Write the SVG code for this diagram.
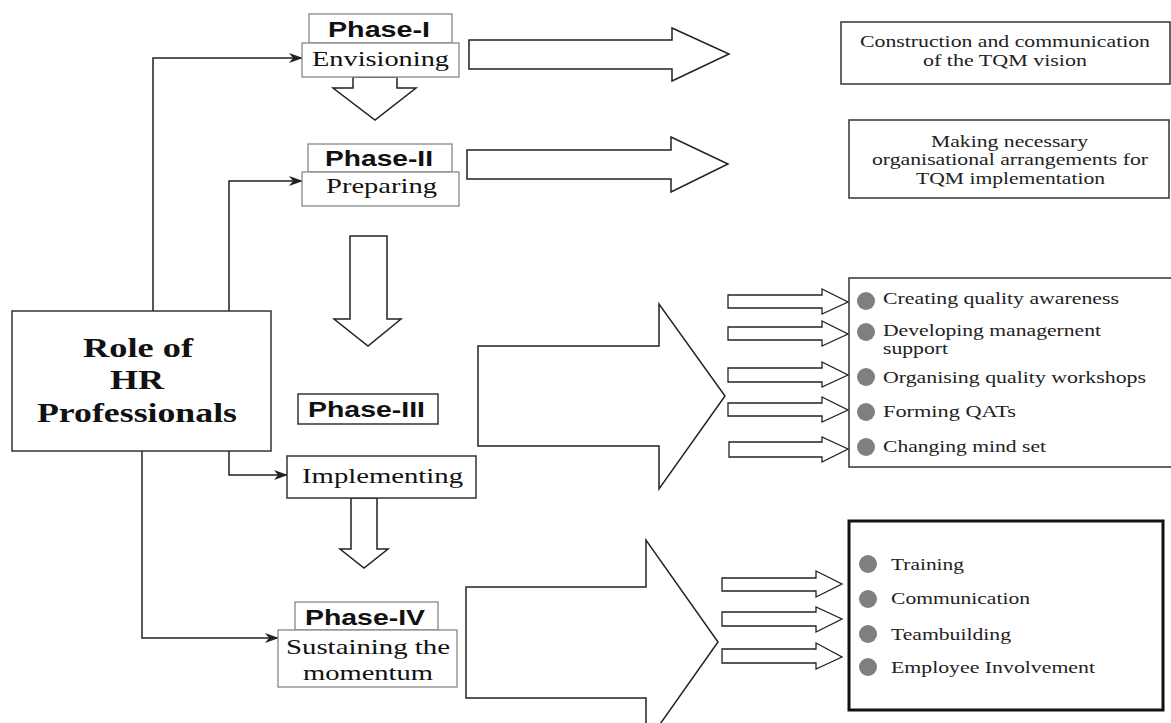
<svg xmlns="http://www.w3.org/2000/svg" width="1171" height="723" viewBox="0 0 1171 723">
<defs>
<marker id="ah" markerWidth="14" markerHeight="10" refX="13" refY="5" orient="auto" markerUnits="userSpaceOnUse">
<path d="M0,0 L14,5 L0,10 L4,5 z" fill="#222"/>
</marker>
<style>
.bx{fill:#fff;stroke:#333;stroke-width:1.5}
.lb{fill:#fff;stroke:#888;stroke-width:1.3}
.ar{fill:#fff;stroke:#222;stroke-width:1.5;stroke-linejoin:miter}
.sa{fill:#fff;stroke:#222;stroke-width:1.3}
.cn{fill:none;stroke:#222;stroke-width:1.5}
.ph{font-family:"Liberation Sans",Arial,sans-serif;font-weight:bold;font-size:22px;fill:#111}
.st{font-family:"Liberation Serif","Times New Roman",serif;font-size:22px;fill:#111}
.rt{font-family:"Liberation Serif","Times New Roman",serif;font-size:27px;font-weight:bold;fill:#111}
.tx{font-family:"Liberation Serif","Times New Roman",serif;font-size:16.5px;fill:#222}
.bu{fill:#7f7f7f}
</style>
</defs>
<rect width="1171" height="723" fill="#fff"/>

<g id="connectors">
<path class="cn" d="M153,311 V58 H302" marker-end="url(#ah)"/>
<path class="cn" d="M229,311 V181 H302" marker-end="url(#ah)"/>
<path class="cn" d="M229,451 V475 H287" marker-end="url(#ah)"/>
<path class="cn" d="M142,451 V638 H278" marker-end="url(#ah)"/>
<polygon class="ar" points="353,77 397,77 397,88 416,88 375,120 333,88 353,88"/>
<polygon class="ar" points="350,236 387,236 387,319 401,319 368,346 334,319 350,319"/>
<polygon class="ar" points="351,498 377,498 377,549 388,549 364,568 340,549 351,549"/>
<polygon class="ar" points="469,40 672,40 672,28 729,54 672,81 672,69 469,69"/>
<polygon class="ar" points="467,150 671,150 671,137 728,164 671,192 671,179 467,179"/>
<polygon class="ar" points="478,346 659,346 659,304 725,396 659,489 659,446 478,446"/>
<polygon class="ar" points="466,587 646,587 646,540 718,642 646,744 646,698 466,698"/>
<polygon class="sa" points="728,295 822,295 822,289 848,302 822,314 822,308 728,308"/>
<polygon class="sa" points="728,327 822,327 822,321 848,334 822,346 822,340 728,340"/>
<polygon class="sa" points="728,368 822,368 822,362 848,375 822,387 822,382 728,382"/>
<polygon class="sa" points="728,403 822,403 822,397 848,410 822,422 822,416 728,416"/>
<polygon class="sa" points="729,442 822,442 822,437 848,449 822,462 822,457 729,457"/>
<polygon class="sa" points="722,578 816,578 816,571 842,584 816,597 816,591 722,591"/>
<polygon class="sa" points="722,612 816,612 816,607 842,619 816,632 816,626 722,626"/>
<polygon class="sa" points="722,649 816,649 816,643 842,657 816,669 816,663 722,663"/>
</g>

<g id="role">
<rect class="bx" x="12" y="311" width="259" height="140"/>
<text class="rt" x="83" y="357" textLength="110" lengthAdjust="spacingAndGlyphs">Role of</text>
<text class="rt" x="110" y="389" textLength="54" lengthAdjust="spacingAndGlyphs">HR</text>
<text class="rt" x="37" y="422" textLength="200" lengthAdjust="spacingAndGlyphs">Professionals</text>
</g>

<g id="phase1">
<rect class="lb" x="309" y="14" width="143" height="29"/>
<text class="ph" x="328" y="37" textLength="102" lengthAdjust="spacingAndGlyphs">Phase-I</text>
<rect class="lb" x="302" y="43" width="157" height="34"/>
<text class="st" x="312" y="66" textLength="137" lengthAdjust="spacingAndGlyphs">Envisioning</text>
</g>

<g id="phase2">
<rect class="lb" x="308" y="144" width="144" height="28"/>
<text class="ph" x="325" y="166" textLength="108" lengthAdjust="spacingAndGlyphs">Phase-II</text>
<rect class="lb" x="302" y="172" width="157" height="34"/>
<text class="st" x="326" y="193" textLength="111" lengthAdjust="spacingAndGlyphs">Preparing</text>
</g>

<g id="phase3">
<rect class="bx" x="298" y="394" width="140" height="30"/>
<text class="ph" x="308" y="417" textLength="117" lengthAdjust="spacingAndGlyphs">Phase-III</text>
<rect class="bx" x="287" y="456" width="189" height="42"/>
<text class="st" x="302" y="483" textLength="161" lengthAdjust="spacingAndGlyphs">Implementing</text>
</g>

<g id="phase4">
<rect class="lb" x="295" y="602" width="143" height="28"/>
<text class="ph" x="305" y="625" textLength="120" lengthAdjust="spacingAndGlyphs">Phase-IV</text>
<rect class="lb" x="278" y="630" width="179" height="57"/>
<text class="st" x="286" y="654" textLength="164" lengthAdjust="spacingAndGlyphs">Sustaining the</text>
<text class="st" x="303" y="680" textLength="130" lengthAdjust="spacingAndGlyphs">momentum</text>
</g>

<g id="out1">
<rect class="bx" x="841" y="22" width="329" height="62"/>
<text class="tx" x="860" y="47" textLength="290" lengthAdjust="spacingAndGlyphs">Construction and communication</text>
<text class="tx" x="923" y="66" textLength="164" lengthAdjust="spacingAndGlyphs">of the TQM vision</text>
</g>

<g id="out2">
<rect class="bx" x="849" y="120" width="320" height="78"/>
<text class="tx" x="931" y="147" textLength="157" lengthAdjust="spacingAndGlyphs">Making necessary</text>
<text class="tx" x="872" y="165" textLength="276" lengthAdjust="spacingAndGlyphs">organisational arrangements for</text>
<text class="tx" x="916" y="184" textLength="189" lengthAdjust="spacingAndGlyphs">TQM implementation</text>
</g>

<g id="out3">
<rect class="bx" x="849" y="278" width="323" height="189"/>
<circle class="bu" cx="866" cy="301" r="9"/>
<circle class="bu" cx="866" cy="332" r="9"/>
<circle class="bu" cx="866" cy="377" r="9"/>
<circle class="bu" cx="866" cy="412" r="9"/>
<circle class="bu" cx="866" cy="447" r="9"/>
<text class="tx" x="883" y="304" textLength="236" lengthAdjust="spacingAndGlyphs">Creating quality awareness</text>
<text class="tx" x="883" y="336" textLength="218" lengthAdjust="spacingAndGlyphs">Developing managernent</text>
<text class="tx" x="883" y="354" textLength="65" lengthAdjust="spacingAndGlyphs">support</text>
<text class="tx" x="883" y="383" textLength="263" lengthAdjust="spacingAndGlyphs">Organising quality workshops</text>
<text class="tx" x="883" y="417" textLength="133" lengthAdjust="spacingAndGlyphs">Forming QATs</text>
<text class="tx" x="883" y="452" textLength="163" lengthAdjust="spacingAndGlyphs">Changing mind set</text>
</g>

<g id="out4">
<rect x="849" y="521" width="314" height="189" fill="#fff" stroke="#111" stroke-width="3"/>
<circle class="bu" cx="868" cy="564" r="9"/>
<circle class="bu" cx="868" cy="599" r="9"/>
<circle class="bu" cx="868" cy="634" r="9"/>
<circle class="bu" cx="868" cy="667" r="9"/>
<text class="tx" x="891" y="570" textLength="73" lengthAdjust="spacingAndGlyphs">Training</text>
<text class="tx" x="891" y="604" textLength="139" lengthAdjust="spacingAndGlyphs">Communication</text>
<text class="tx" x="891" y="640" textLength="120" lengthAdjust="spacingAndGlyphs">Teambuilding</text>
<text class="tx" x="891" y="673" textLength="204" lengthAdjust="spacingAndGlyphs">Employee Involvement</text>
</g>
</svg>
